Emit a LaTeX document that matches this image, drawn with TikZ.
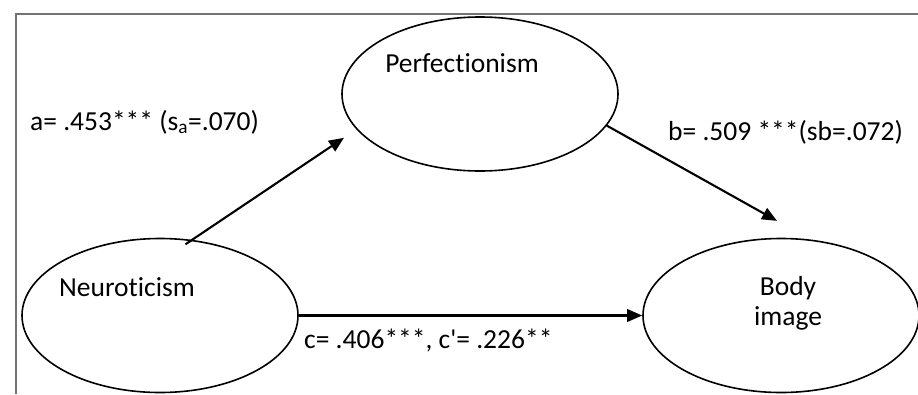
\documentclass[tikz,border=0pt]{standalone}
\usepackage{fontspec}
\setmainfont{Carlito}[Ligatures={TeX,NoCommon}]
\usetikzlibrary{shapes.geometric}
\usetikzlibrary{arrows.meta}

\tikzset{
  latent/.style={draw, ellipse, line width=1.6pt, inner sep=0pt,
    minimum width=276pt, minimum height=154pt},
  arr/.style={-{Triangle[length=15pt, width=12.5pt]}, line width=2.1pt},
  coef/.style={anchor=west, inner sep=0pt}
}

\begin{document}
\begin{tikzpicture}[x=1pt, y=-1pt, font=\fontsize{27.5}{30}\selectfont]
\useasboundingbox (0,0) rectangle (918,394);
\draw[line width=2pt, black!55] (918,14) -- (16,14) -- (16,394);

\node[latent, label={[xshift=-18pt, yshift=31pt]center:Perfectionism}] (perf) at (480,94) {};
\node[latent, label={[xshift=-33pt, yshift=28.5pt]center:Neuroticism}] (neuro) at (160,315.5) {};
\node[latent, label={[xshift=7pt, yshift=12.5pt, align=center]center:Body\\image}] (body) at (781,315.5) {};

\draw[arr, shorten <=-8pt, shorten >=15pt] (neuro.67) -- (perf.196.7);
\draw[arr, shorten >=38pt] (perf.-14) -- (body.69);
\draw[arr] (neuro.east) -- (body.west);

\node[coef] (lblA) at (30,122) {a= .453*** (s\textsubscript{a}=.070)};
\node[coef] (lblB) at (668,132) {b= .509 ***(sb=.072)};
\node[coef] (lblC) at (304,340) {c= .406***, c\textquotesingle= .226**};
\end{tikzpicture}
\end{document}
